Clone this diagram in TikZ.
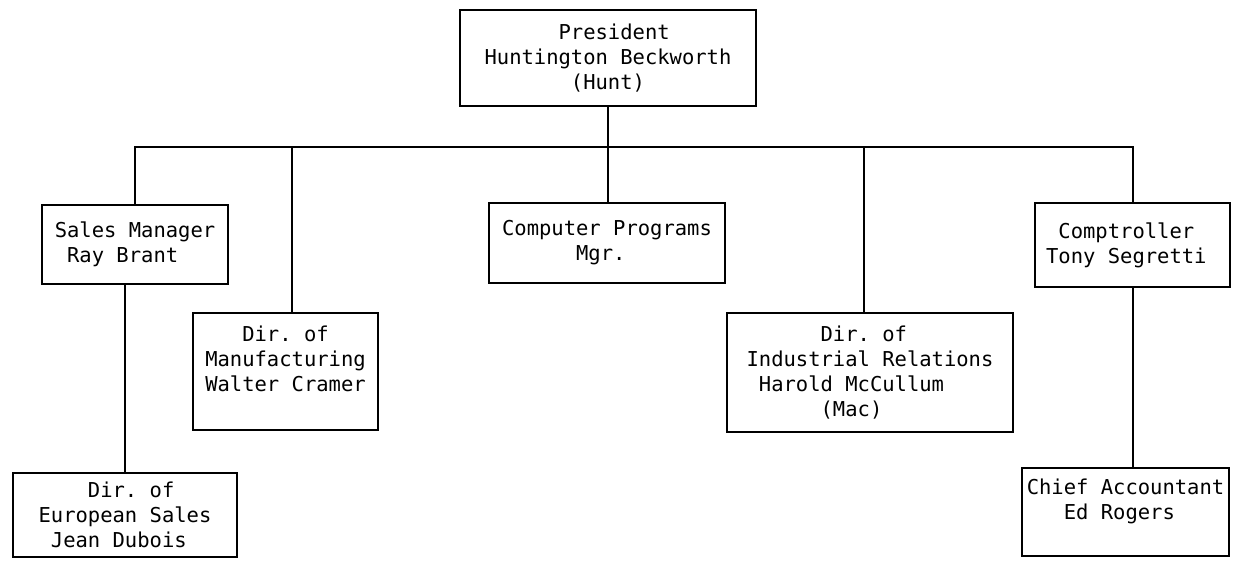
\documentclass[tikz,border=0pt]{standalone}
\usepackage{fontspec}
\setmonofont{DejaVu Sans Mono}
\newcommand{\col}[1]{\hspace*{#1\dimexpr0.602em\relax}}

\begin{document}
\begin{tikzpicture}[x=1pt,y=-1pt,line width=2pt,
    font=\ttfamily\fontsize{20.5}{25}\selectfont]

      \useasboundingbox (0,0) rectangle (1239,560);

      \begin{scope}[every node/.style={rectangle,draw,align=left,inner sep=0pt}]
        \node[minimum width=296,minimum height=96]  (pres)  at (608,58)     {\col{6}President\\Huntington Beckworth\\\col{7}(Hunt)};
        \node[minimum width=186,minimum height=79]  (sales) at (135,244.5)  {Sales Manager\\\col{1}Ray Brant};
        \node[minimum width=185,minimum height=117] (manu)  at (285.5,371.5) {\col{3}Dir. of\\Manufacturing\\Walter Cramer\\\mbox{}};
        \node[minimum width=236,minimum height=80]  (comp)  at (607,243)    {Computer Programs\\\col{6}Mgr.};
        \node[minimum width=286,minimum height=119] (ind)   at (870,372.5)  {\col{6}Dir. of\\Industrial Relations\col{2}\\\col{1}Harold McCullum\\\col{6}(Mac)};
        \node[minimum width=195,minimum height=84]  (compt) at (1132.5,245) {\col{1}Comptroller\\Tony Segretti\col{1}};
        \node[minimum width=207,minimum height=88]  (chief) at (1125.5,512) {Chief Accountant\\\col{3}Ed Rogers\\\mbox{}};
        \node[minimum width=224,minimum height=84]  (euro)  at (125,515)    {\col{4}Dir. of\\European Sales\col{4}\\\col{1}Jean Dubois};
      \end{scope}

      \coordinate (bus) at (0,147);

      \draw (pres.south) -- (pres.south |- comp.north);
      \draw (sales.north) -- (sales.north |- bus) -- (compt.north |- bus) -- (compt.north);
      \draw ([xshift=6]manu.north) -- ([xshift=6]manu.north |- bus);
      \draw ([xshift=-6]ind.north) -- ([xshift=-6]ind.north |- bus);
      \draw (euro.north) -- (euro.north |- sales.south);
      \draw (compt.south) -- (compt.south |- chief.north);

    \end{tikzpicture}
\end{document}
